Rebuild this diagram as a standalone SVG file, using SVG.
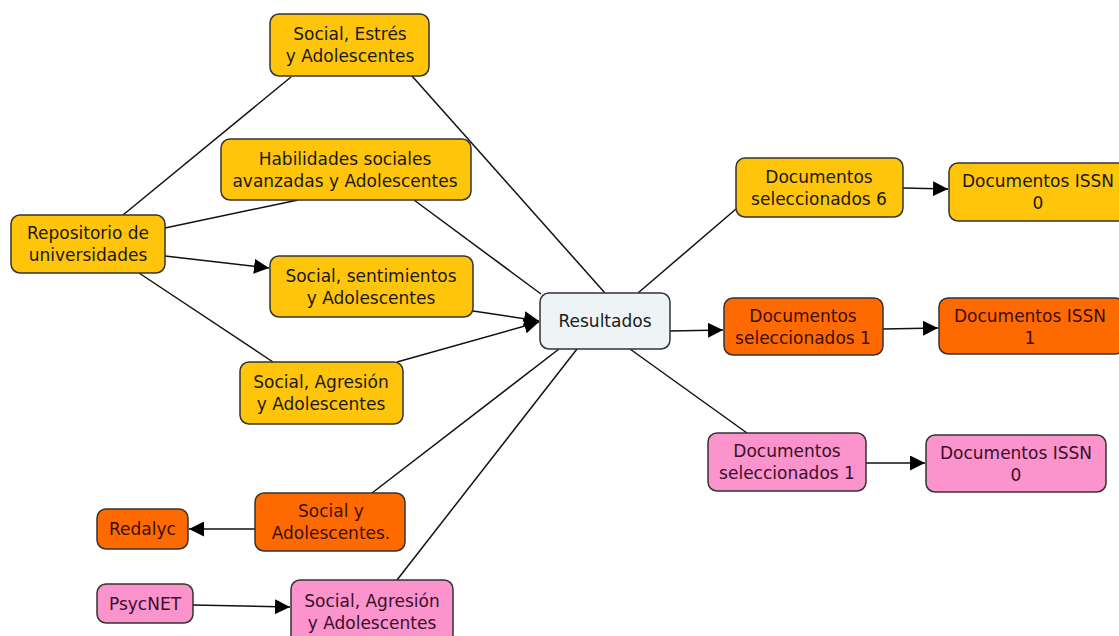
<svg xmlns="http://www.w3.org/2000/svg" width="1119" height="636" viewBox="0 0 1119 636">
<style>
rect{stroke:#333;stroke-width:1.5}
.y{fill:#ffc50a}
.o{fill:#ff6a00}
.p{fill:#fb93cc}
.r{fill:#eef3f5}
text{font-family:"DejaVu Sans",Verdana,sans-serif;font-size:17px;text-anchor:middle;fill:#1a1a1a}
.ot{fill:#3a1000}
.pt{fill:#3a0f2a}
#edges line{stroke:#111;stroke-width:1.5}
</style>
<defs>
<marker id="ah" viewBox="0 0 10 10" refX="10" refY="5" markerWidth="15" markerHeight="15" markerUnits="userSpaceOnUse" orient="auto">
<path d="M0,0 L10,5 L0,10 Z" fill="#000"/>
</marker>
</defs>
<rect x="0" y="0" width="1119" height="636" fill="#fff" style="stroke:none"/>
<g id="edges">
<line x1="123" y1="215" x2="291" y2="77"/>
<line x1="412" y1="76" x2="605" y2="293"/>
<line x1="165" y1="228" x2="298" y2="200"/>
<line x1="414" y1="200" x2="541" y2="294"/>
<line x1="165" y1="256" x2="269" y2="268" marker-end="url(#ah)"/>
<line x1="473" y1="311" x2="539" y2="321" marker-end="url(#ah)"/>
<line x1="139" y1="273" x2="273" y2="362"/>
<line x1="397" y1="362" x2="539" y2="322" marker-end="url(#ah)"/>
<line x1="372" y1="493" x2="559" y2="349"/>
<line x1="397" y1="580" x2="577" y2="349"/>
<line x1="670" y1="331" x2="723" y2="330" marker-end="url(#ah)"/>
<line x1="638" y1="293" x2="736" y2="209"/>
<line x1="630" y1="349" x2="747" y2="433"/>
<line x1="903" y1="188" x2="948" y2="189" marker-end="url(#ah)"/>
<line x1="883" y1="329" x2="938" y2="328" marker-end="url(#ah)"/>
<line x1="866" y1="463" x2="925" y2="463" marker-end="url(#ah)"/>
<line x1="255" y1="529" x2="189" y2="529" marker-end="url(#ah)"/>
<line x1="193" y1="605" x2="290" y2="607" marker-end="url(#ah)"/>
</g>
<g id="n1"><rect class="y" x="270" y="14" width="159" height="62" rx="9"/><text x="350" y="40">Social, Estrés</text><text x="350" y="62">y Adolescentes</text></g>
<g id="n2"><rect class="y" x="221" y="139" width="250" height="61" rx="9"/><text x="345" y="164.5">Habilidades sociales</text><text x="345" y="186.5">avanzadas y Adolescentes</text></g>
<g id="n3"><rect class="y" x="11" y="215" width="154" height="58" rx="9"/><text x="88" y="239">Repositorio de</text><text x="88" y="261">universidades</text></g>
<g id="n4"><rect class="y" x="270" y="256" width="203" height="61" rx="9"/><text x="371" y="281.5">Social, sentimientos</text><text x="371" y="303.5">y Adolescentes</text></g>
<g id="n5"><rect class="y" x="240" y="362" width="163" height="62" rx="9"/><text x="321" y="388">Social, Agresión</text><text x="321" y="410">y Adolescentes</text></g>
<g id="n6"><rect class="r" x="540" y="293" width="130" height="56" rx="9"/><text x="605" y="327">Resultados</text></g>
<g id="n7"><rect class="y" x="736" y="158" width="167" height="59" rx="9"/><text x="819" y="182.5">Documentos</text><text x="819" y="204.5">seleccionados 6</text></g>
<g id="n8"><rect class="y" x="949" y="163" width="206" height="58" rx="9"/><text x="1038" y="187">Documentos ISSN</text><text x="1038" y="209">0</text></g>
<g id="n9"><rect class="o" x="724" y="298" width="159" height="57" rx="9"/><text class="ot" x="803" y="321.5">Documentos</text><text class="ot" x="803" y="343.5">seleccionados 1</text></g>
<g id="n10"><rect class="o" x="939" y="298" width="185" height="56" rx="9"/><text class="ot" x="1030" y="321.5">Documentos ISSN</text><text class="ot" x="1030" y="343.5">1</text></g>
<g id="n11"><rect class="p" x="708" y="433" width="158" height="58" rx="9"/><text class="pt" x="787" y="457">Documentos</text><text class="pt" x="787" y="479">seleccionados 1</text></g>
<g id="n12"><rect class="p" x="926" y="435" width="180" height="57" rx="9"/><text class="pt" x="1016" y="458.5">Documentos ISSN</text><text class="pt" x="1016" y="480.5">0</text></g>
<g id="n13"><rect class="o" x="255" y="493" width="150" height="58" rx="9"/><text class="ot" x="331" y="517">Social y</text><text class="ot" x="331" y="539">Adolescentes.</text></g>
<g id="n14"><rect class="o" x="97" y="509" width="91" height="40" rx="9"/><text class="ot" x="142.5" y="535">Redalyc</text></g>
<g id="n15"><rect class="p" x="97" y="584" width="96" height="39" rx="9"/><text class="pt" x="145" y="609.5">PsycNET</text></g>
<g id="n16"><rect class="p" x="291" y="580" width="162" height="64" rx="9"/><text class="pt" x="372" y="606.5">Social, Agresión</text><text class="pt" x="372" y="628.5">y Adolescentes</text></g>
</svg>
